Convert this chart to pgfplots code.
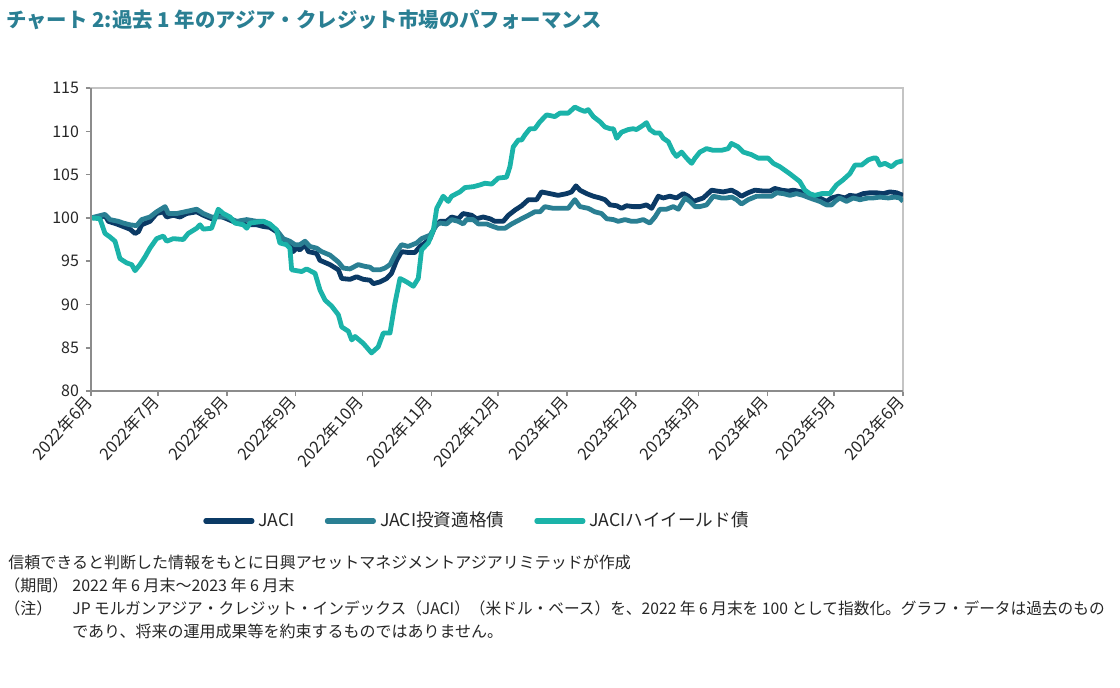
\documentclass[border=0pt]{standalone}
\usepackage{fontspec}
\setmainfont{Noto Sans CJK JP}
\usepackage{graphicx}
\usepackage{pgfplots}
\pgfplotsset{compat=1.18}
\definecolor{cjaci}{HTML}{0B3A65}
\definecolor{cig}{HTML}{2A7F93}
\definecolor{chy}{HTML}{1BB3A9}
\definecolor{ctitle}{HTML}{2A7F93}
\definecolor{ctext}{HTML}{262626}
\definecolor{caxis}{HTML}{8C8C8C}
\definecolor{cframe}{HTML}{C4C4C4}
\begin{document}
\begin{tikzpicture}
\useasboundingbox (0,0) rectangle (560pt,-343.5pt);
\node[anchor=west, inner sep=0, text=ctitle, font=\fontsize{10.2}{12}\selectfont\bfseries] at (3pt,-10pt) {チャート 2:過去 1 年のアジア・クレジット市場のパフォーマンス};
\begin{axis}[
  at={(45.5pt,-195.5pt)}, anchor=south west,
  width=406pt, height=151.5pt, scale only axis,
  xmin=0, xmax=365, ymin=80, ymax=115,
  ytick={80,85,...,115},
  xtick={0,30,61,92,122,153,183,214,245,273,304,334,365},
  xticklabels={2022年6月,2022年7月,2022年8月,2022年9月,2022年10月,2022年11月,2022年12月,2023年1月,2023年2月,2023年3月,2023年4月,2023年5月,2023年6月},
  xticklabel style={rotate=48, anchor=east, inner sep=1.5pt, font=\fontsize{8.3}{9}\selectfont},
  yticklabel style={font=\fontsize{8}{9}\selectfont},
  tick label style={text=ctext},
  /pgf/number format/assume math mode=true,
  axis line style={cframe, line width=0.8pt},
  tick style={caxis, line width=0.8pt},
  tick align=outside, major tick length=2.5pt,
  xtick pos=left, ytick pos=left,
  after end axis/.code={\draw[caxis, line width=0.9pt] (rel axis cs:0,1)--(rel axis cs:0,0)--(rel axis cs:1,0);},
  legend style={at={(0.4766,-0.429)}, anchor=center, draw=none, fill=none,
    legend columns=3, font=\fontsize{8.8}{10}\selectfont, text=ctext,
    /tikz/every even column/.append style={column sep=13pt}},
  legend image code/.code={\draw[#1, line width=2.6pt, line cap=round] (0pt,0pt)--(23pt,0pt);},
  every axis plot/.append style={line width=2.4pt, line join=round},
]
\addplot[cjaci, mark=none] coordinates {
(0,100.0)(4.8,100.1)(6.3,100.3)(7.8,99.6)(11.5,99.3)(14.5,99.0)(17.5,98.7)(19.8,98.2)(21.3,98.4)(22.8,99.2)
(26.5,99.6)(29.5,100.5)(32.5,100.7)(34.0,100.1)(37.0,100.3)(40.0,100.1)(43.0,100.5)(47.5,100.7)(50.5,100.3)
(54.2,99.9)(57.2,100.3)(61.0,99.9)(65.5,99.4)(70.0,99.2)(74.5,99.2)(77.5,99.0)(80.4,98.9)(83.4,98.4)(86.4,97.4)
(89.4,97.1)(90.9,96.1)(92.4,96.5)(93.9,96.3)(96.2,96.9)(97.7,96.1)(101.4,95.9)(102.9,95.1)(107.4,94.6)(111.2,94.0)
(112.7,93.0)(116.4,92.9)(119.4,93.2)(122.4,92.9)(125.4,92.8)(126.9,92.4)(129.9,92.6)(132.9,93.0)(135.1,93.6)
(137.4,95.1)(139.6,96.1)(142.6,96.0)(145.6,96.0)(147.9,96.7)(150.1,97.1)(152.4,97.6)(154.6,99.0)
(156.9,99.6)(159.8,99.6)(162.1,100.1)(165.1,99.9)(167.3,100.5)(171.1,100.3)(173.3,99.9)(176.3,100.1)(179.3,99.9)
(181.6,99.6)(185.3,99.6)(187.6,100.3)(190.6,100.9)(193.6,101.4)(196.6,102.1)(200.3,102.1)(202.5,103.0)(206.3,102.8)
(210.0,102.6)(213.8,102.8)(216.0,103.0)(218.0,103.7)(219.8,103.2)(222.8,102.8)(225.8,102.5)(228.8,102.3)(231.0,102.1)
(233.3,101.5)(236.3,101.4)(238.5,101.1)(240.7,101.4)(243.7,101.3)(246.7,101.3)(249.7,101.5)(252.0,101.1)(255.0,102.5)
(257.2,102.3)(260.2,102.5)(263.2,102.3)(266.2,102.8)(268.5,102.5)(270.7,101.9)(275.2,102.3)(279.0,103.2)(281.2,103.1)
(284.2,103.0)(287.9,103.2)(290.2,102.9)(292.4,102.5)(295.4,102.9)(298.4,103.2)(302.2,103.1)(305.2,103.1)(307.4,103.4)
(310.4,103.2)(313.4,103.1)(315.7,103.2)(319.4,103.0)(323.1,102.6)(327.6,102.3)(330.6,101.9)(332.9,102.3)(335.9,102.5)
(338.9,102.3)(341.1,102.6)(344.1,102.5)(347.1,102.8)(350.1,102.9)(353.1,102.9)(356.1,102.8)(359.1,103.0)(362.1,102.9)(365,102.6)
};
\addlegendentry{JACI}
\addplot[cig, mark=none] coordinates {
(0,100.0)(6.3,100.4)(8.5,99.8)(12.3,99.6)(14.5,99.4)(17.5,99.2)(20.5,99.1)(22.8,99.8)(26.5,100.1)(29.5,100.7)
(33.3,101.3)(34.8,100.5)(38.5,100.5)(42.2,100.7)(47.5,101.0)(50.5,100.5)(54.2,100.1)(57.2,100.1)(61.0,100.1)
(65.5,99.6)(70.0,99.8)(74.5,99.6)(77.5,99.6)(80.4,99.2)(83.4,98.6)(86.4,97.6)(89.4,97.3)(91.7,96.9)(93.9,96.9)
(96.2,97.3)(98.4,96.7)(101.4,96.5)(103.7,96.1)(107.4,95.7)(111.2,94.9)(113.4,94.2)(116.4,94.1)(120.1,94.6)
(123.1,94.4)(125.4,94.3)(126.9,94.0)(129.9,94.0)(132.1,94.2)(134.4,94.6)(137.4,96.1)(139.6,96.9)(142.6,96.7)
(146.4,97.1)(148.6,97.6)(152.4,98.0)(155.4,99.2)
(156.9,99.4)(159.8,99.3)(162.1,99.8)(165.1,99.6)(167.3,99.3)(168.8,99.8)(171.8,99.8)(174.1,99.3)(177.8,99.3)
(180.8,99.0)(183.1,98.8)(186.1,98.8)(189.1,99.3)(192.8,99.8)(196.6,100.3)(199.5,100.7)(201.8,100.7)(204.0,101.3)
(207.8,101.1)(211.5,101.1)(214.5,101.1)(217.5,102.1)(219.8,101.3)(223.5,101.1)(226.5,100.7)(229.5,100.5)(231.8,99.9)
(234.8,99.8)(237.0,99.6)(240.0,99.8)(243.0,99.6)(245.2,99.6)(248.2,99.8)(251.2,99.4)(253.5,100.1)(255.7,101.0)
(258.7,101.0)(261.7,101.3)(264.0,101.0)(267.0,102.3)(269.2,101.9)(271.5,101.3)(273.7,101.3)(276.7,101.5)(279.7,102.5)
(283.4,102.3)(285.7,102.3)(288.0,102.4)(290.2,102.1)(292.4,101.6)(295.4,102.1)(299.2,102.5)(302.9,102.5)(305.9,102.5)
(308.2,102.9)(311.2,102.8)(314.2,102.6)(317.1,102.8)(320.1,102.6)(323.1,102.3)(327.6,101.9)(330.6,101.5)(332.9,101.5)
(334.4,101.9)(336.6,102.3)(339.6,101.9)(342.6,102.3)(345.6,102.1)(349.4,102.3)(351.6,102.3)(354.6,102.4)(358.4,102.3)
(361.3,102.4)(363.6,102.3)(365,101.9)
};
\addlegendentry{JACI投資適格債}
\addplot[chy, mark=none] coordinates {
(0,100.0)(4.0,99.9)(6.3,98.2)(8.5,97.8)(10.8,97.3)(13.0,95.3)(16.0,94.8)(18.3,94.6)(19.8,93.9)(22.0,94.6)
(24.3,95.5)(26.5,96.5)(29.5,97.6)(32.5,97.9)(34.0,97.3)(37.0,97.6)(41.5,97.5)(43.7,98.2)(47.5,98.8)(49.0,99.2)
(50.5,98.7)(54.2,98.8)(57.2,101.0)(59.5,100.5)(62.5,100.1)(64.7,99.4)(68.5,99.2)(70.0,98.8)(71.5,99.4)(77.5,99.6)
(80.4,99.3)(83.4,98.6)(84.9,97.1)(87.9,96.9)(89.4,96.5)(90.2,94.0)(94.7,93.8)(96.9,94.1)(99.2,93.8)(100.7,93.6)
(102.9,91.7)(105.2,90.5)(108.2,89.8)(111.2,88.8)(112.7,87.4)(115.7,86.9)(117.2,85.9)(118.7,86.3)(122.4,85.5)
(126.1,84.4)(129.1,85.1)(131.4,86.7)(134.4,86.7)(136.6,90.1)(138.9,93.0)(141.9,92.6)(144.9,92.1)(147.1,93.0)
(148.6,96.3)(151.6,97.1)(153.9,98.6)(155.4,101.1)
(158.3,102.5)(160.6,101.9)(162.1,102.5)(165.8,103.0)(168.1,103.5)(171.8,103.6)(174.8,103.8)(177.1,104.0)(180.1,103.9)
(183.1,104.6)(186.8,104.7)(188.3,105.9)(189.8,108.2)(192.1,109.0)(193.6,109.0)(195.1,109.6)(197.3,110.3)(199.5,110.3)
(201.8,111.1)(204.8,111.9)(208.5,111.7)(210.8,112.1)(214.5,112.1)(217.5,112.8)(219.8,112.5)(222.0,112.3)(223.5,112.5)
(225.8,111.7)(228.8,111.1)(231.0,110.5)(233.3,110.3)(234.8,110.3)(236.3,109.2)(238.5,109.9)(241.5,110.2)(243.7,110.3)
(245.2,110.2)(248.2,110.7)(249.7,111.0)(251.2,110.2)(253.5,109.8)(255.7,109.8)(257.2,109.2)(259.5,108.8)(261.7,107.6)
(263.2,107.1)(265.5,107.6)(267.7,106.9)(270.0,106.3)(271.5,106.9)(273.7,107.6)(276.7,108.0)(279.7,107.8)(283.4,107.8)
(286.4,108.0)(287.9,108.6)(290.9,108.2)(293.2,107.6)(296.9,107.3)(299.9,106.9)(304.4,106.9)(306.7,106.3)(309.7,105.9)
(314.1,105.1)(318.6,104.2)(320.9,103.2)(323.1,102.8)(325.4,102.6)(328.4,102.8)(332.1,102.8)(335.1,103.8)(338.1,104.4)
(341.1,105.1)(343.4,106.1)(346.4,106.1)(349.4,106.7)(351.6,106.9)(353.1,106.9)(354.6,106.1)(356.9,106.3)(359.8,105.9)
(362.1,106.4)(365,106.6)
};
\addlegendentry{JACIハイイールド債}
\end{axis}
\begin{scope}[every node/.style={anchor=west, inner sep=0, text=ctext, font=\fontsize{8}{9}\selectfont}]
\node at (4pt,-281pt) {信頼できると判断した情報をもとに日興アセットマネジメントアジアリミテッドが作成};
\node at (2pt,-292.5pt) {（期間）};
\node at (36pt,-292.5pt) {2022 年 6 月末～2023 年 6 月末};
\node at (2pt,-304pt) {（注）};
\node at (36pt,-304pt) {\scalebox{0.98}[1]{JP モルガンアジア・クレジット・インデックス（JACI）（米ドル・ベース）を、2022 年 6 月末を 100 として指数化。グラフ・データは過去のもの}};
\node at (36pt,-315.5pt) {であり、将来の運用成果等を約束するものではありません。};
\end{scope}
\end{tikzpicture}
\end{document}
